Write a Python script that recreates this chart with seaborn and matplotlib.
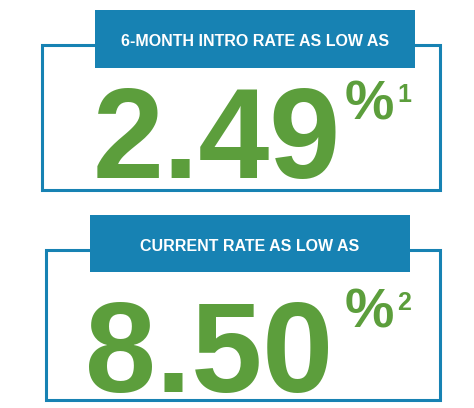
import matplotlib
matplotlib.use("Agg")
import matplotlib.pyplot as plt
import seaborn as sns
from matplotlib.patches import Rectangle

sns.set_theme(style="white")
plt.rcParams['font.family'] = ['Liberation Sans', 'DejaVu Sans']

labels = ["6-MONTH INTRO RATE AS LOW AS", "CURRENT RATE AS LOW AS"]
rates = ["2.49", "8.50"]
notes = ["1", "2"]

BLUE = "#1782b3"
GREEN = "#5c9e3c"

fig = plt.figure(figsize=(4.74, 4.08), dpi=100)
ax = fig.add_axes([0, 0, 1, 1])
ax.set_xlim(0, 474)
ax.set_ylim(408, 0)
ax.axis("off")

blocks = [
    dict(frame=(42, 45, 398, 145), banner=(95, 10, 320, 58), num_x=93, num_y=178, pct_x=345, pct_y=120),
    dict(frame=(46, 250, 394, 150), banner=(90, 215, 320, 57), num_x=85, num_y=392, pct_x=345, pct_y=328),
]

for b, lab, r, n in zip(blocks, labels, rates, notes):
    fx, fy, fw, fh = b["frame"]
    ax.add_patch(Rectangle((fx, fy), fw, fh, fill=False, ec=BLUE, lw=2.2))
    bx, by, bw, bh = b["banner"]
    ax.add_patch(Rectangle((bx, by), bw, bh, fc=BLUE, ec="none", zorder=3))
    ax.text(bx + bw / 2, by + bh / 2 + 3, lab, color="white", fontsize=11.5,
            fontweight="bold", ha="center", va="center", zorder=4)
    ax.text(b["num_x"], b["num_y"], r, color=GREEN, fontsize=92,
            fontweight="bold", ha="left", va="baseline", zorder=4)
    ax.text(b["pct_x"], b["pct_y"], "%", color=GREEN, fontsize=40,
            fontweight="bold", ha="left", va="baseline", zorder=4)
    ax.text(b["pct_x"] + 52, b["pct_y"] - 18, n, color=GREEN, fontsize=18,
            fontweight="bold", ha="left", va="baseline", zorder=4)

fig.savefig("out.png", dpi=100, facecolor="white")
